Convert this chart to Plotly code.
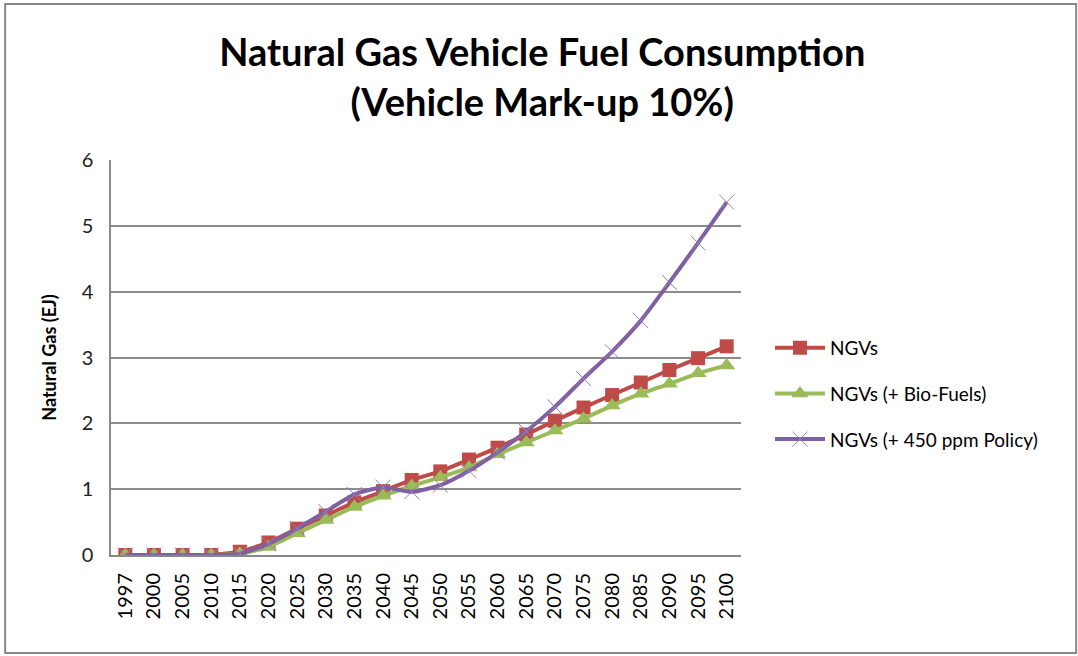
import plotly.graph_objects as go

years = ["1997", "2000", "2005", "2010", "2015", "2020", "2025", "2030", "2035", "2040", "2045",
         "2050", "2055", "2060", "2065", "2070", "2075", "2080", "2085", "2090", "2095", "2100"]
ngvs = [0, 0, 0, 0, 0.05, 0.19, 0.40, 0.60, 0.80, 0.97, 1.14, 1.27, 1.45, 1.63, 1.83, 2.04,
        2.24, 2.43, 2.62, 2.81, 2.99, 3.17]
ngvs_bio = [0, 0, 0, 0, 0.02, 0.12, 0.33, 0.53, 0.73, 0.90, 1.05, 1.18, 1.33, 1.53, 1.71, 1.89,
            2.07, 2.27, 2.45, 2.60, 2.76, 2.88]
ngvs_450 = [0, 0, 0, 0, 0.02, 0.17, 0.40, 0.66, 0.92, 1.03, 0.96, 1.06, 1.28, 1.56, 1.88, 2.25,
            2.68, 3.09, 3.56, 4.14, 4.74, 5.36]

FONT = "Lato, 'Liberation Sans', Arial, sans-serif"

fig = go.Figure()
fig.add_trace(go.Scatter(
    x=years, y=ngvs, name="NGVs", mode="lines+markers", legendgroup="a",
    line=dict(color="#BE4B48", width=4, shape="spline", smoothing=0.4),
    marker=dict(symbol="square", size=14, color="#BE4B48")))
fig.add_trace(go.Scatter(
    x=years, y=ngvs_bio, name="NGVs (+ Bio-Fuels)", mode="lines+markers", legendgroup="b",
    line=dict(color="#9BBB59", width=4, shape="spline", smoothing=0.4),
    marker=dict(symbol="triangle-up", size=15, color="#9BBB59")))
fig.add_trace(go.Scatter(
    x=years, y=ngvs_450, name="NGVs (+ 450 ppm Policy)", mode="lines+markers", legendgroup="c",
    line=dict(color="#7F60A0", width=4, shape="spline", smoothing=0.6),
    marker=dict(symbol="x-thin", size=15, color="#7F60A0", line=dict(width=1, color="#9580BA"))))

fig.update_layout(
    width=1078, height=656,
    margin=dict(l=111, r=337, t=160, b=101),
    paper_bgcolor="white", plot_bgcolor="white",
    font=dict(family=FONT, color="#000000", size=17),
    title=dict(text="<b>Natural Gas Vehicle Fuel Consumption<br>(Vehicle Mark-up 10%)</b>",
               x=0.503, xanchor="center", y=0.899, yanchor="middle",
               font=dict(family=FONT, size=38, color="#000000")),
    showlegend=True,
    legend=dict(x=1.046, xanchor="left", y=0.408, yanchor="middle", itemwidth=50,
                font=dict(family=FONT, size=19), traceorder="grouped", tracegroupgap=18,
                bgcolor="rgba(0,0,0,0)"),
    shapes=[dict(type="rect", xref="paper", yref="paper", x0=-0.168, x1=1.532, y0=-0.248, y1=1.395,
                 line=dict(color="#888888", width=2), layer="below")],
)
fig.update_xaxes(type="category", range=[-0.5, 21.5], showgrid=False, showline=True,
                 linecolor="#888888", linewidth=2, ticks="", tickangle=-90, ticklabelstandoff=8,
                 tickfont=dict(family=FONT, size=20), mirror=False)
fig.update_yaxes(range=[0, 6], dtick=1, showgrid=True, gridcolor="#8C8C8C", gridwidth=1.5,
                 showline=True, linecolor="#888888", linewidth=1.5, zeroline=False,
                 ticks="", ticklabelstandoff=12, tickfont=dict(family=FONT, size=20, color="#222222"),
                 title=dict(text="<b>Natural Gas (EJ)</b>", font=dict(family=FONT, size=18), standoff=20))

fig.write_html("out.html", config={"displayModeBar": False},
               post_script="document.body.style.margin='0';")
